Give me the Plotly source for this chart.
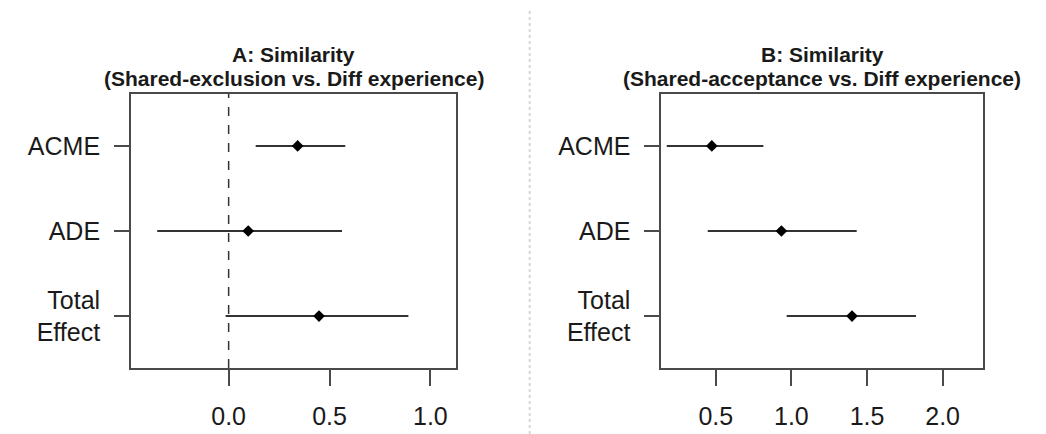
import plotly.graph_objects as go

# Mediation estimates (point estimate with 95% CI) for the two contrasts
effects = ["ACME", "ADE", "Total<br>Effect"]
effect_pos = [3, 2, 1]

a_est = [0.342, 0.097, 0.448]
a_lo = [0.134, -0.354, -0.015]
a_hi = [0.578, 0.562, 0.891]

b_est = [0.474, 0.934, 1.401]
b_lo = [0.176, 0.447, 0.969]
b_hi = [0.815, 1.432, 1.824]

a_ticks = [0.0, 0.5, 1.0]
b_ticks = [0.5, 1.0, 1.5, 2.0]

W, H = 1046, 434
FONT = "Liberation Sans, Arial, sans-serif"
INK = "#1a1a1a"
AXIS = "#4a4a4a"

fig = go.Figure()


def add_panel(est, lo, hi, xa, ya):
    fig.add_trace(go.Scatter(
        x=est, y=effect_pos, mode="markers",
        marker=dict(symbol="diamond", size=9, color="black"),
        error_x=dict(type="data", symmetric=False,
                     array=[h - e for h, e in zip(hi, est)],
                     arrayminus=[e - l for e, l in zip(est, lo)],
                     color="#333333", thickness=2, width=0),
        xaxis=xa, yaxis=ya, showlegend=False, hoverinfo="skip",
    ))


add_panel(a_est, a_lo, a_hi, "x", "y")
add_panel(b_est, b_lo, b_hi, "x2", "y2")

ydom = [1 - 368 / H, 1 - 94 / H]

xcommon = dict(showgrid=False, zeroline=False, showline=True, mirror=True,
               linecolor=AXIS, linewidth=1.8, ticks="outside", ticklen=16,
               tickwidth=1.8, tickcolor=AXIS, ticklabelstandoff=9,
               tickfont=dict(family=FONT, size=25, color=INK))
ycommon = dict(showgrid=False, zeroline=False, showline=True, mirror=True,
               linecolor=AXIS, linewidth=1.8, ticks="outside", ticklen=15,
               tickwidth=1.8, tickcolor=AXIS, ticklabelstandoff=9,
               range=[0.39, 3.61], tickvals=effect_pos, ticktext=effects,
               tickfont=dict(family=FONT, size=25, color=INK))

fig.update_layout(
    width=W, height=H, margin=dict(l=0, r=0, t=0, b=0),
    paper_bgcolor="white", plot_bgcolor="white",
    xaxis=dict(domain=[131 / W, 456 / W], range=[-0.484, 1.127],
               tickvals=a_ticks, ticktext=[f"{v:.1f}" for v in a_ticks],
               anchor="y", **xcommon),
    yaxis=dict(domain=ydom, anchor="x", **ycommon),
    xaxis2=dict(domain=[661.3 / W, 982.7 / W], range=[0.140, 2.265],
                tickvals=b_ticks, ticktext=[f"{v:.1f}" for v in b_ticks],
                anchor="y2", **xcommon),
    yaxis2=dict(domain=ydom, anchor="x2", **ycommon),
)

# reference line at zero in panel A
fig.add_shape(type="line", xref="x", yref="y domain", x0=0, x1=0, y0=0, y1=1,
              line=dict(color="#333333", width=1.5, dash="dash"))

# light divider between the panels
fig.add_shape(type="line", xref="paper", yref="paper",
              x0=529.7 / W, x1=529.7 / W, y0=0, y1=1 - 9 / H,
              line=dict(color="#d6d6d6", width=2, dash="dot"))

titles = [
    (293.5, "A: Similarity", "(Shared-exclusion vs. Diff experience)"),
    (822.0, "B: Similarity", "(Shared-acceptance vs. Diff experience)"),
]
for cx, line1, line2 in titles:
    for cy, txt in ((54, line1), (78, line2)):
        fig.add_annotation(x=cx / W, y=1 - cy / H, xref="paper", yref="paper",
                           text=f"<b>{txt}</b>", showarrow=False,
                           xanchor="center", yanchor="middle",
                           font=dict(family=FONT, size=21, color=INK))

fig.write_html("out.html")
